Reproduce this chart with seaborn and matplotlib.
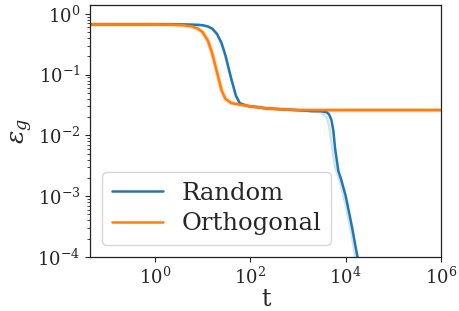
import matplotlib
matplotlib.use("Agg")
import matplotlib.pyplot as plt
import numpy as np
import pandas as pd
import seaborn as sns

# Generalisation error vs time (log-log)
t = [0.044, 0.3, 1, 2, 4, 6, 8, 10, 13, 16, 20, 25, 30, 40, 50, 60, 80, 100,
     150, 200, 400, 1000, 2000, 3000, 4000, 4500, 5000, 5500, 6000, 7000,
     8000, 10000, 12000, 14000, 16000, 20000, 1e5, 1e6]

random_mean = [0.67, 0.67, 0.67, 0.67, 0.67, 0.665, 0.66, 0.65, 0.62, 0.57,
               0.47, 0.33, 0.21, 0.085, 0.045, 0.034, 0.031, 0.030,
               0.029, 0.028, 0.027, 0.026, 0.025, 0.025, 0.024, 0.022, 0.018,
               0.012, 0.006, 0.0026, 0.0019, 0.0010, 0.00050, 0.00027, 0.00015,
               0.00006, 0.000001, 0.0000001]
random_seed = [0.67, 0.67, 0.67, 0.67, 0.67, 0.665, 0.655, 0.645, 0.61, 0.55,
               0.45, 0.31, 0.20, 0.08, 0.044, 0.034, 0.031, 0.030,
               0.029, 0.028, 0.027, 0.026, 0.025, 0.024, 0.020, 0.014, 0.008,
               0.0045, 0.0030, 0.0021, 0.0015, 0.0007, 0.00035, 0.00018, 0.00009,
               0.00003, 0.000001, 0.0000001]

ortho_mean = [0.67, 0.67, 0.67, 0.665, 0.65, 0.62, 0.57, 0.50, 0.36, 0.22,
              0.11, 0.055, 0.040, 0.034, 0.033, 0.032, 0.031, 0.030,
              0.029, 0.028, 0.027, 0.026, 0.026, 0.026, 0.026, 0.026, 0.026,
              0.026, 0.026, 0.026, 0.026, 0.026, 0.026, 0.026, 0.026,
              0.026, 0.026, 0.026]

series = {"Random": random_mean, "Orthogonal": ortho_mean}
colors = {"Random": "#1f77b4", "Orthogonal": "#ff7f0e"}

df = pd.concat([pd.DataFrame({"t": t, "eps": v, "init": k}) for k, v in series.items()])

sns.set_style("ticks")
plt.rcParams["font.family"] = "DejaVu Serif"
plt.rcParams["mathtext.fontset"] = "dejavuserif"

fig, ax = plt.subplots(figsize=(4.6, 3.11), dpi=100)
fig.subplots_adjust(left=0.196, right=0.959, top=0.984, bottom=0.174)

# faint individual runs behind the means
ax.plot(t, random_seed, color=colors["Random"], alpha=0.2, linewidth=1.8)
ax.plot(t, ortho_mean, color=colors["Orthogonal"], alpha=0.3, linewidth=3.2)

sns.lineplot(data=df, x="t", y="eps", hue="init", palette=colors, linewidth=1.8,
             ax=ax)

ax.set_xscale("log")
ax.set_yscale("log")
ax.set_xlim(0.044, 1e6)
ax.set_ylim(1e-4, 1.4)
ax.set_xticks([1, 1e2, 1e4, 1e6])
ax.xaxis.set_minor_locator(matplotlib.ticker.NullLocator())
ax.tick_params(labelsize=13, length=3.5, width=0.8)
ax.tick_params(which="minor", length=2)
for s in ax.spines.values():
    s.set_color("#222222")
    s.set_linewidth(0.9)

ax.set_xlabel("t", fontsize=17, labelpad=0)
ax.set_ylabel(r"$\varepsilon_g$", fontsize=18, labelpad=2)

ax.legend(title=None, loc="lower left", fontsize=17.5, handlelength=2.1,
          handletextpad=0.75, borderpad=0.4, labelspacing=0.3)

plt.savefig("out.png", dpi=100)
